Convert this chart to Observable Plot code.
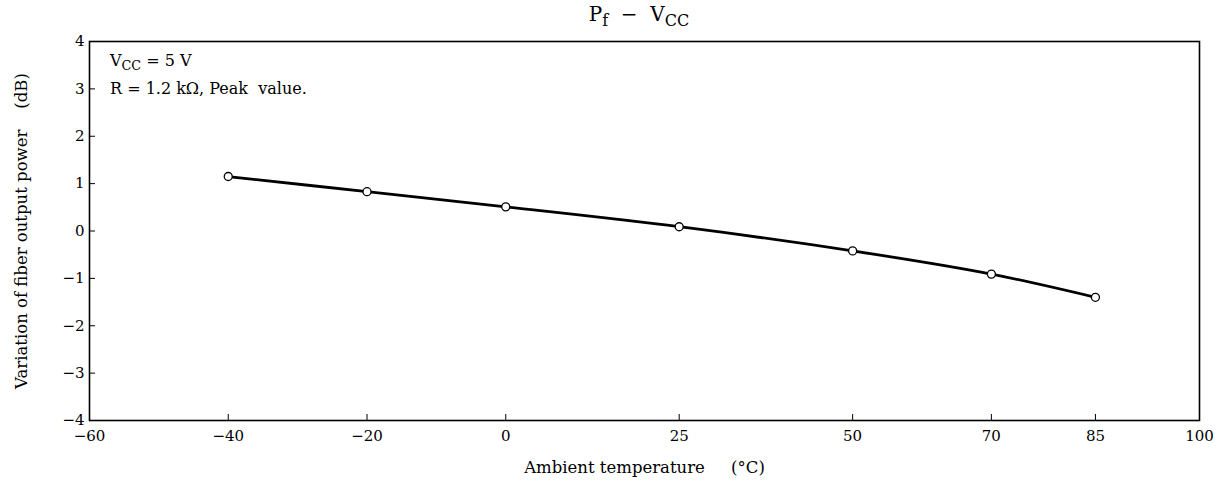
<!DOCTYPE html>
<html>
<head>
<meta charset="utf-8">
<script src="https://cdn.jsdelivr.net/npm/d3@7"></script>
<script src="https://cdn.jsdelivr.net/npm/@observablehq/plot@0.6"></script>
<style>
  html, body { margin: 0; padding: 0; background: white; }
  #wrap { position: relative; width: 1225px; height: 488px; font-family: "DejaVu Serif", "Liberation Serif", serif; color: black; }
  .ov { position: absolute; white-space: nowrap; line-height: 1; }
  sub { font-size: 0.8em; vertical-align: -0.3em; line-height: 0; }
</style>
</head>
<body>
<div id="wrap">
  <div class="ov" id="title" style="left:0;width:1278px;text-align:center;top:4px;font-size:20px;">P<sub>f</sub>&nbsp; −&nbsp; V<sub>CC</sub></div>
  <div class="ov" style="left:110px;top:53px;font-size:16px;">V<sub>CC</sub> = 5 V</div>
  <div class="ov" style="left:110px;top:81px;font-size:16px;">R = 1.2 kΩ, Peak&nbsp; value.</div>
</div>
<script>
const temps = [-40, -20, 0, 25, 50, 70, 85];
const power = [1.15, 0.83, 0.51, 0.09, -0.42, -0.91, -1.40];
const xTicks = [-60, -40, -20, 0, 25, 50, 70, 85, 100];
const yTicks = [-4, -3, -2, -1, 0, 1, 2, 3, 4];
const xLabel = "Ambient temperature\u00a0\u00a0\u00a0\u00a0\u00a0(°C)";
const yLabel = "Variation of fiber output power\u00a0\u00a0\u00a0\u00a0(dB)";

const data = temps.map((t, i) => ({t, p: power[i]}));

const W = 1225, H = 488, mL = 89, mR = 26, mT = 41, mB = 68;
const fw = W - mL - mR, fh = H - mT - mB;
const fmt = d => d < 0 ? "\u2212" + Math.abs(d) : String(d);

const chart = Plot.plot({
  width: W, height: H,
  marginLeft: mL, marginRight: mR, marginTop: mT, marginBottom: mB,
  x: {domain: [-60, 100]},
  y: {domain: [-4, 4]},
  style: {fontFamily: "DejaVu Serif, Liberation Serif, serif", fontSize: "15px", color: "black", background: "white", overflow: "visible"},
  marks: [
    Plot.gridX(xTicks, {stroke: "black", strokeOpacity: 1, strokeWidth: 1, insetTop: fh - 6}),
    Plot.gridY(yTicks, {stroke: "black", strokeOpacity: 1, strokeWidth: 1, insetRight: fw - 6}),
    Plot.axisX(xTicks, {tickSize: 0, tickPadding: 10, label: null, tickFormat: fmt}),
    Plot.axisY(yTicks, {tickSize: 0, tickPadding: 5, label: null, tickFormat: fmt}),
    Plot.frame({stroke: "black", strokeWidth: 1.6}),
    Plot.text([xLabel], {frameAnchor: "bottom", dy: 52, fontSize: 16.5}),
    Plot.text([yLabel], {frameAnchor: "left", textAnchor: "middle", rotate: -90, dx: -68, fontSize: 16.5}),
    Plot.line(data, {x: "t", y: "p", curve: "catmull-rom", stroke: "black", strokeWidth: 2.8}),
    Plot.dot(data, {x: "t", y: "p", r: 4, fill: "white", stroke: "black", strokeWidth: 1.3})
  ]
});
chart.style.position = "absolute";
chart.style.left = "0";
chart.style.top = "0";
const wrap = document.getElementById("wrap");
wrap.insertBefore(chart, wrap.firstChild);
</script>
</body>
</html>
